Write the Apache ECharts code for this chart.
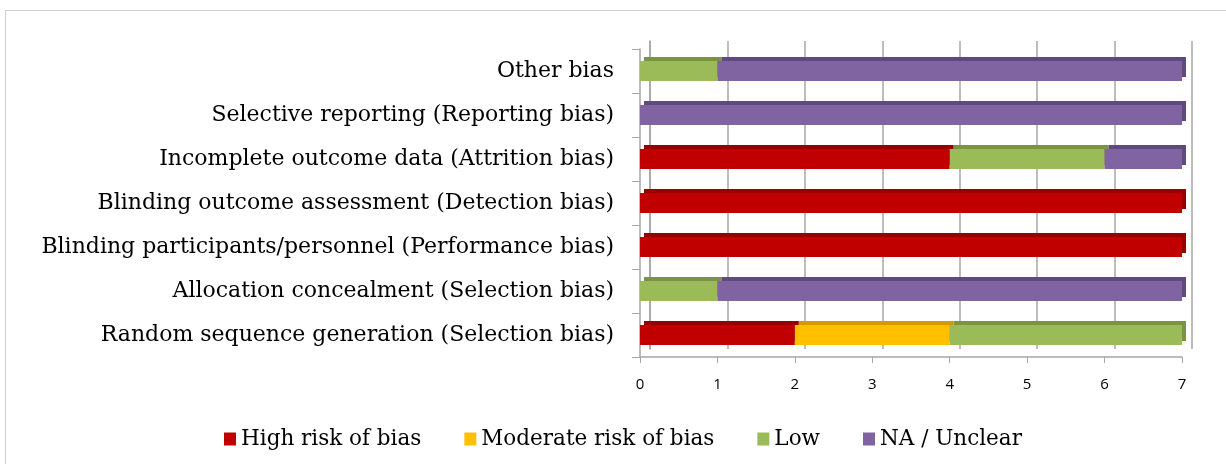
<!DOCTYPE html>
<html><head><meta charset="utf-8">
<script src="https://cdn.jsdelivr.net/npm/echarts@6/dist/echarts.min.js"></script>
<style>
html,body{margin:0;padding:0;background:#fff;overflow:hidden}
#frame{position:absolute;left:5px;top:10px;width:1240px;height:470px;border:1px solid #d0d0d0;box-sizing:border-box}
#c{position:absolute;left:0;top:0;width:1226px;height:464px}
</style></head>
<body><div id="frame"></div><div id="c"></div>
<script>
const categories = [
  'Random sequence generation (Selection bias)',
  'Allocation concealment (Selection bias)',
  'Blinding participants/personnel (Performance bias)',
  'Blinding outcome assessment (Detection bias)',
  'Incomplete outcome data (Attrition bias)',
  'Selective reporting (Reporting bias)',
  'Other bias'
];
const seriesNames = ['High risk of bias', 'Moderate risk of bias', 'Low', 'NA / Unclear'];
const highRisk = [2, 0, 7, 7, 4, 0, 0];
const moderateRisk = [2, 0, 0, 0, 0, 0, 0];
const lowRisk = [3, 1, 0, 0, 2, 0, 1];
const naUnclear = [0, 6, 0, 0, 1, 7, 6];
const xTicks = [0, 1, 2, 3, 4, 5, 6, 7];

const colors = ['#C00000', '#FFC000', '#9BBB59', '#8064A2'];
const topColors = ['#980000', '#D09C00', '#7A9444', '#5F4A7D'];
const dataSets = [highRisk, moderateRisk, lowRisk, naUnclear];

const chart = echarts.init(document.getElementById('c'));
const series = dataSets.map((d, i) => ({
  name: seriesNames[i], type: 'bar', stack: 'all', data: d,
  xAxisIndex: 0, yAxisIndex: 0, z: 5,
  barWidth: 20,
  itemStyle: { color: colors[i], shadowColor: topColors[i], shadowOffsetX: 4, shadowOffsetY: -4, shadowBlur: 0 },
  emphasis: { disabled: true }
}));
// back-wall gridlines (3D look)
series.push({ type: 'bar', data: [], xAxisIndex: 1, yAxisIndex: 1, silent: true });

chart.setOption({
  animation: false,
  color: colors,
  legend: {
    bottom: 9, left: 219, itemWidth: 12, itemHeight: 13, itemGap: 43,
    icon: 'rect', data: seriesNames,
    textStyle: { fontFamily: 'DejaVu Serif', fontSize: 21.5, color: '#000' }
  },
  grid: [
    { left: 640, right: 44, top: 49, bottom: 107 },
    { left: 650, right: 34, top: 41, bottom: 115 }
  ],
  xAxis: [
    { type: 'value', gridIndex: 0, min: 0, max: 7, interval: 1, z: 1,
      axisLine: { show: true, lineStyle: { color: '#a6a6a6', width: 1.5 } },
      axisTick: { show: true, length: 6, lineStyle: { color: '#a6a6a6' } },
      splitLine: { show: false },
      axisLabel: { fontFamily: 'Open Sans', fontSize: 15, color: '#000', margin: 20,
        formatter: v => xTicks.includes(v) ? String(v) : '' } },
    { type: 'value', gridIndex: 1, min: 0, max: 7, interval: 1, z: 0,
      axisLine: { show: false }, axisTick: { show: false }, axisLabel: { show: false },
      splitLine: { show: true, lineStyle: { color: '#a6a6a6', width: 1.5 } } }
  ],
  yAxis: [
    { type: 'category', gridIndex: 0, data: categories, z: 1,
      axisLine: { show: true, lineStyle: { color: '#a6a6a6', width: 1.5 } },
      axisTick: { show: true, length: 8, lineStyle: { color: '#a6a6a6' } },
      axisLabel: { fontFamily: 'DejaVu Serif', fontSize: 22, color: '#000', margin: 26 } },
    { type: 'category', gridIndex: 1, data: categories, z: 0,
      axisLine: { show: true, lineStyle: { color: '#a6a6a6', width: 1.5 } },
      axisTick: { show: false }, axisLabel: { show: false }, splitLine: { show: false } }
  ],
  series: series
});
</script></body></html>
